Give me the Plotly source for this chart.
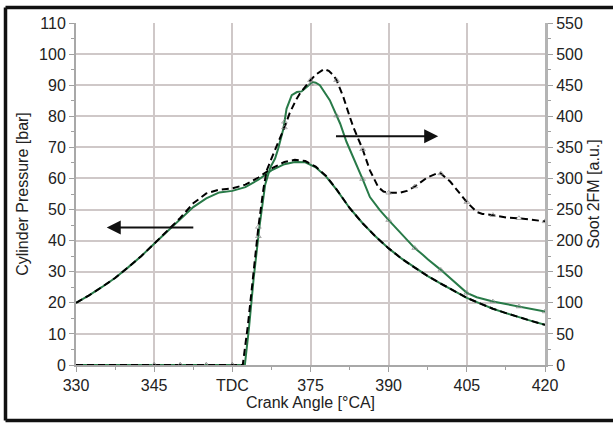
import plotly.graph_objects as go

# ---------------- data ----------------
# Cylinder pressure [bar] (left axis)
p_x = [330, 332.5, 335, 337.5, 340, 342.5, 345, 347.5, 350, 352.5, 355, 357.5, 360,
       362.5, 365, 367.5, 370, 372, 374, 376, 378, 380, 382.5, 385, 387.5, 390,
       392.5, 395, 397.5, 400, 402.5, 405, 407.5, 410, 412.5, 415, 417.5, 420]
p_dashed = [20.0, 22.4, 25.1, 28.0, 31.4, 35.0, 39.0, 43.0, 47.3, 52.0, 55.2, 56.4, 56.8,
            58.0, 60.3, 63.2, 65.3, 66.0, 65.6, 63.8, 60.8, 56.5, 50.5, 45.6, 41.3, 37.5,
            34.2, 31.3, 28.6, 26.2, 23.9, 21.6, 19.8, 18.1, 16.7, 15.3, 14.1, 12.9]
p_green = [20.0, 22.4, 25.1, 28.0, 31.4, 35.0, 39.0, 43.0, 46.8, 50.8, 53.6, 55.5, 56.0,
           57.2, 59.6, 62.6, 64.6, 65.3, 65.2, 63.6, 60.6, 56.4, 50.5, 45.6, 41.3, 37.5,
           34.2, 31.3, 28.6, 26.2, 23.9, 21.6, 19.8, 18.1, 16.7, 15.3, 14.1, 12.9]

# Soot 2FM [a.u.] (right axis)
s_dashed_x = [330, 335, 340, 345, 350, 355, 360, 362, 363, 364, 365, 366, 366.6, 367.5,
              368.5, 369.5, 370, 371, 372.2, 373, 374.4, 375, 376, 377.6, 378.5, 379.4,
              380, 381.3, 382.5, 383.2, 384.8, 385, 386.4, 388, 389, 390, 392.2, 393.5,
              395, 397.5, 399.5, 400, 401.8, 403, 404.6, 405, 406.9, 408, 410, 412.6,
              415, 417.5, 420]
s_dashed = [0, 0, 0, 0, 0, 0, 0, 0, 65, 147, 222, 285, 313, 332,
            352, 370, 382, 405, 426, 437, 453, 458, 467, 476, 473, 466,
            458, 431, 400, 383, 351, 347, 313, 286, 279, 277, 277, 280,
            287, 302, 309, 308, 295, 282, 265, 262, 246, 243, 241, 237,
            236, 233, 231]

s_green_x = [330, 335, 340, 345, 350, 355, 360, 362.4, 363.2, 364.1, 365, 365.2, 366.3,
             367.3, 368.2, 368.8, 369.8, 370, 370.4, 371.4, 372.4, 373.3, 374.3, 375,
             375.4, 376, 376.8, 378.7, 380, 380.7, 381.9, 383.9, 385, 386.4, 388.3, 390,
             392.5, 394.7, 395, 396.6, 397.5, 400, 402.5, 404.7, 405, 406.9, 410, 412.5,
             415, 417.5, 420]
s_green = [0, 0, 0, 0, 0, 0, 0, 0, 60, 140, 207, 222, 290,
           318, 332, 348, 380, 391, 412, 434, 439, 440, 447, 452,
           455, 454, 450, 426, 401, 388, 359, 321, 299, 270, 249, 233,
           210, 190, 188, 177, 170, 153, 134, 118, 116, 109, 102, 98,
           94, 89, 86]

x_tickvals = [330, 345, 360, 375, 390, 405, 420]
x_ticktext = ["330", "345", "TDC", "375", "390", "405", "420"]

# arrows (tail -> head), in axis units of the left axis
arrow_left = dict(tail=(352.8, 44.2), head=(335.9, 44.2))
arrow_right = dict(tail=(379.6, 73.6), head=(399.5, 73.6))

GREEN = "rgb(40,122,72)"
FONT = "Liberation Sans, Arial, sans-serif"


def marker_sizes(xs, start=345):
    return [5 if (x >= start and float(x).is_integer() and int(x) % 5 == 0) else 0 for x in xs]


fig = go.Figure()

fig.add_trace(go.Scatter(x=p_x, y=p_green, mode="lines",
                         line=dict(color=GREEN, width=2), yaxis="y", showlegend=False))
fig.add_trace(go.Scatter(x=p_x, y=p_dashed, mode="lines",
                         line=dict(color="black", width=2, dash="7px,4px"), yaxis="y",
                         showlegend=False))
fig.add_trace(go.Scatter(x=s_green_x, y=s_green, mode="lines+markers",
                         line=dict(color=GREEN, width=2),
                         marker=dict(symbol="triangle-up-open", size=marker_sizes(s_green_x),
                                     color="#8a8a8a", line=dict(width=1)),
                         yaxis="y2", showlegend=False))
fig.add_trace(go.Scatter(x=s_dashed_x, y=s_dashed, mode="lines+markers",
                         line=dict(color="black", width=2, dash="7px,4px"),
                         marker=dict(symbol="triangle-up-open", size=marker_sizes(s_dashed_x),
                                     color="#8a8a8a", line=dict(width=1)),
                         yaxis="y2", showlegend=False))

axis_common = dict(
    showgrid=True, gridcolor="#cfc8c8", gridwidth=1.5,
    showline=True, linecolor="#a8a8a8", linewidth=2,
    ticks="outside", ticklen=5, tickcolor="#a0a0a0", tickwidth=1,
    zeroline=False,
    tickfont=dict(family=FONT, size=16, color="#222222"),
)

fig.update_layout(
    width=613, height=423,
    margin=dict(l=76, r=68, t=23, b=58),
    paper_bgcolor="white", plot_bgcolor="white",
    font=dict(family=FONT, size=16, color="#222222"),
    xaxis=dict(range=[330, 420], tickvals=x_tickvals, ticktext=x_ticktext,
               minor=dict(tickvals=[337.5, 352.5, 367.5, 382.5, 397.5, 412.5],
                          ticks="outside", ticklen=3, tickcolor="#a0a0a0", showgrid=False),
               title=dict(text="Crank Angle [°CA]", standoff=4,
                          font=dict(family=FONT, size=16, color="#222222")),
               **axis_common),
    yaxis=dict(range=[0, 110], dtick=10,
               minor=dict(dtick=5, ticks="outside", ticklen=3, tickcolor="#a0a0a0", showgrid=False),
               title=dict(text="Cylinder Pressure [bar]", standoff=6,
                          font=dict(family=FONT, size=16, color="#222222")),
               **axis_common),
    yaxis2=dict(range=[0, 550], dtick=50, overlaying="y", side="right",
                showgrid=False, showline=True, linecolor="#b4b4b4", linewidth=3,
                ticks="outside", ticklen=5, tickcolor="#a0a0a0", zeroline=False,
                minor=dict(dtick=25, ticks="outside", ticklen=3, tickcolor="#a0a0a0"),
                tickfont=dict(family=FONT, size=16, color="#222222"),
                title=dict(text="Soot 2FM [a.u.]", standoff=6,
                           font=dict(family=FONT, size=16, color="#222222"))),
)

for arr in (arrow_left, arrow_right):
    fig.add_annotation(x=arr["head"][0], y=arr["head"][1], ax=arr["tail"][0], ay=arr["tail"][1],
                       xref="x", yref="y", axref="x", ayref="y", text="", showarrow=True,
                       arrowhead=2, arrowsize=1.4, arrowwidth=2, arrowcolor="#111111")

# outer frame (open on the right, as in the reference): top, left, bottom edges, in pixels
FX0, FX1, FY_TOP, FY_BOT = 5.5, 640, 7.5, 420.5
for (xa, ya, xb, yb) in [(FX0, FY_TOP, FX1, FY_TOP), (FX0, FY_TOP, FX0, FY_BOT),
                         (FX0, FY_BOT, FX1, FY_BOT)]:
    fig.add_shape(type="line", xref="paper", yref="paper",
                  x0=(xa - 76) / 469, x1=(xb - 76) / 469,
                  y0=(365 - ya) / 342, y1=(365 - yb) / 342,
                  line=dict(color="#111111", width=3.5), layer="above")

fig.write_html("out.html",
               config={"displayModeBar": False},
               post_script="document.body.style.margin='0';document.body.style.overflow='hidden';")
